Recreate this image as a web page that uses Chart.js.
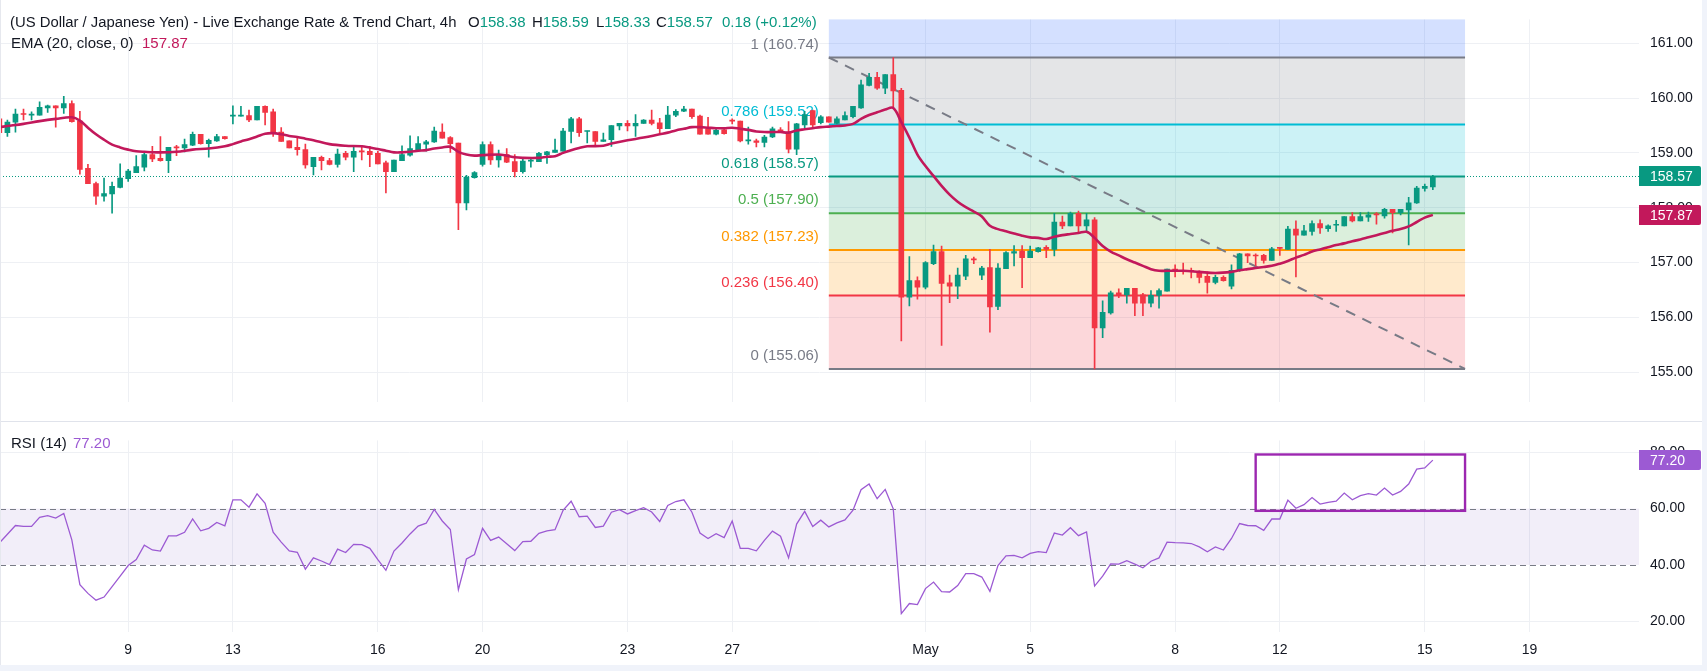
<!DOCTYPE html>
<html>
<head>
<meta charset="utf-8">
<script src="https://cdn.jsdelivr.net/npm/chart.js@4.4.1/dist/chart.umd.min.js"></script>
<style>
  html, body { margin: 0; padding: 0; background: #fff; }
  body { width: 1707px; height: 671px; position: relative; overflow: hidden;
         font-family: 'Liberation Sans', Arial, sans-serif; color: #131722; }
  canvas { position: absolute; left: 0; }
  #main { top: 0; }
  #rsi { top: 421px; }
  .t { position: absolute; font-size: 15px; line-height: 16px; white-space: pre; }
  .up { color: #089981; }
  .frame { position: absolute; background: #f0f3fa; }
</style>
</head>
<body>
<canvas id="main" width="1707" height="421"></canvas>
<canvas id="rsi" width="1707" height="250"></canvas>

<div class="t" style="left:10px; top:14px; font-size:14.85px;">(US Dollar / Japanese Yen) - Live Exchange Rate &amp; Trend Chart, 4h</div>
<div class="t" style="left:468px; top:14px;">O<span class="up">158.38</span></div>
<div class="t" style="left:532px; top:14px;">H<span class="up">158.59</span></div>
<div class="t" style="left:596px; top:14px;">L<span class="up">158.33</span></div>
<div class="t" style="left:656px; top:14px;">C<span class="up">158.57</span></div>
<div class="t up" style="left:722px; top:14px;">0.18 (+0.12%)</div>
<div class="t" style="left:11px; top:35px;">EMA (20, close, 0)</div>
<div class="t" style="left:142px; top:35px; color:#c2185b;">157.87</div>
<div class="t" style="left:11px; top:435px;">RSI (14)</div>
<div class="t" style="left:73px; top:435px; color:#9c5ad3;">77.20</div>

<div class="frame" style="left:0; top:421px; width:1702px; height:1px; background:#e0e3eb;"></div>
<div class="frame" style="left:0; top:0; width:1px; height:671px; background:#e6e8ee;"></div>
<div class="frame" style="left:1702px; top:0; width:5px; height:671px;"></div>
<div class="frame" style="left:0; top:665px; width:1707px; height:6px;"></div>

<script>
// ---- data (4h candles; the first one is candle -1, cut by the left edge) ----
const firstIndex = -1;
const opens = [159.62,
  159.37,159.56,159.71,159.69,159.69,159.82,159.86,159.82,159.90,159.58,
  158.72,158.44,158.21,158.25,158.37,158.53,158.64,158.74,158.97,158.90,
  158.86,159.11,159.09,159.14,159.34,159.17,159.22,159.30,159.67,159.67,
  159.68,159.60,159.85,159.75,159.38,159.22,159.10,159.06,158.75,158.92,
  158.86,158.79,158.99,158.92,159.03,159.03,158.99,158.82,158.66,158.86,
  158.96,159.04,159.16,159.20,159.38,159.28,159.18,158.09,158.55,158.79,
  159.15,158.87,158.97,158.84,158.66,158.85,158.84,158.97,159.01,159.03,
  159.39,159.62,159.39,159.39,159.21,159.24,159.49,159.54,159.49,159.54,
  159.60,159.55,159.44,159.69,159.76,159.80,159.67,159.44,159.34,159.42,
  159.59,159.58,159.22,159.22,159.19,159.29,159.42,159.38,159.07,159.51,
  159.77,159.55,159.66,159.54,159.60,159.66,159.82,160.23,160.38,160.18,
  160.43,160.14,156.37,156.67,156.55,156.98,157.20,156.63,156.57,156.75,
  157.06,156.77,156.91,156.20,156.89,157.17,157.21,157.09,157.20,157.28,
  157.24,157.74,157.67,157.90,157.67,157.78,155.81,156.08,156.45,156.41,
  156.53,156.41,156.26,156.40,156.48,156.88,156.85,156.85,156.84,156.75,
  156.64,156.73,156.57,156.85,157.16,157.13,157.13,157.04,157.27,157.24,
  157.61,157.50,157.57,157.71,157.62,157.68,157.67,157.84,157.76,157.83,
  157.89,157.85,157.97,157.91,157.96,158.09,158.35,158.38
];
const highs = [159.65,
  159.60,159.80,159.80,159.75,159.93,159.87,159.86,160.03,159.95,159.76,
  158.79,158.47,158.54,158.47,158.80,158.70,158.95,158.99,159.12,159.30,
  159.10,159.14,159.25,159.38,159.34,159.25,159.34,159.30,159.86,159.85,
  159.78,159.85,159.86,159.80,159.46,159.22,159.28,159.16,158.92,158.94,
  158.90,159.07,159.03,159.10,159.14,159.12,159.03,158.85,158.87,159.13,
  159.31,159.30,159.23,159.47,159.53,159.30,159.18,158.59,158.66,159.20,
  159.20,159.05,159.08,158.97,158.92,158.90,159.01,159.03,159.25,159.45,
  159.65,159.65,159.40,159.39,159.36,159.50,159.54,159.59,159.70,159.61,
  159.78,159.63,159.85,159.79,159.85,159.80,159.69,159.65,159.46,159.45,
  159.62,159.58,159.47,159.25,159.32,159.47,159.46,159.57,159.54,159.76,
  159.78,159.68,159.66,159.66,159.75,159.85,160.33,160.45,160.47,160.43,
  160.74,160.18,157.11,156.74,157.02,157.32,157.30,156.77,156.90,157.13,
  157.10,156.93,157.24,156.98,157.20,157.31,157.31,157.30,157.28,157.31,
  157.90,157.85,157.92,157.94,157.90,157.82,156.30,156.48,156.52,156.53,
  156.53,156.44,156.49,156.52,156.88,156.96,156.99,156.90,156.85,156.83,
  156.77,156.76,156.96,157.17,157.16,157.16,157.15,157.28,157.28,157.66,
  157.76,157.68,157.76,157.78,157.69,157.77,157.84,157.91,157.91,157.92,
  157.91,157.99,157.97,157.97,158.19,158.39,158.43,158.59
];
const lows = [159.33,
  159.30,159.38,159.60,159.60,159.69,159.74,159.47,159.72,159.56,158.61,
  158.44,158.06,158.12,157.90,158.36,158.48,158.64,158.67,158.84,158.85,
  158.64,158.95,159.02,159.13,159.16,158.92,159.21,159.25,159.53,159.67,
  159.57,159.60,159.51,159.30,159.21,159.09,158.96,158.72,158.60,158.69,
  158.78,158.74,158.87,158.66,158.87,158.75,158.80,158.27,158.66,158.86,
  158.94,159.03,159.03,159.19,159.27,159.01,157.60,157.96,158.54,158.76,
  158.79,158.74,158.82,158.56,158.63,158.74,158.84,158.81,159.01,159.03,
  159.18,159.30,159.18,159.12,159.21,159.12,159.42,159.40,159.30,159.54,
  159.51,159.36,159.44,159.66,159.75,159.63,159.34,159.34,159.33,159.34,
  159.53,159.20,159.16,159.11,159.11,159.28,159.37,159.00,158.97,159.43,
  159.44,159.53,159.56,159.53,159.60,159.64,159.81,160.22,160.16,160.08,
  159.84,155.57,156.21,156.33,156.52,156.96,155.49,156.27,156.34,156.69,
  156.98,156.69,155.73,156.14,156.89,156.94,156.54,157.09,157.19,157.09,
  157.12,157.62,157.67,157.56,157.56,155.06,155.63,156.06,156.36,156.26,
  156.03,156.03,156.19,156.17,156.48,156.74,156.79,156.72,156.63,156.44,
  156.61,156.66,156.52,156.84,157.00,156.94,156.99,157.04,157.13,157.24,
  156.74,157.50,157.50,157.53,157.57,157.57,157.67,157.74,157.76,157.75,
  157.70,157.81,157.54,157.87,157.32,158.08,158.30,158.33
];
const closes = [159.37,
  159.56,159.71,159.70,159.70,159.83,159.86,159.82,159.90,159.57,158.70,
  158.44,158.21,158.26,158.39,158.54,158.67,158.75,158.97,158.89,158.86,
  159.10,159.09,159.15,159.34,159.17,159.23,159.30,159.26,159.68,159.68,
  159.60,159.85,159.74,159.35,159.21,159.09,159.06,158.78,158.92,158.86,
  158.79,158.98,158.92,159.03,159.02,158.97,158.80,158.66,158.87,158.97,
  159.08,159.17,159.20,159.40,159.27,159.17,158.09,158.56,158.64,159.15,
  158.87,158.97,158.83,158.66,158.85,158.86,158.99,159.02,159.05,159.40,
  159.62,159.37,159.40,159.21,159.24,159.50,159.54,159.49,159.54,159.60,
  159.54,159.44,159.69,159.76,159.80,159.66,159.34,159.34,159.41,159.35,
  159.58,159.22,159.23,159.19,159.29,159.44,159.37,159.07,159.53,159.70,
  159.51,159.66,159.56,159.62,159.68,159.85,160.24,160.38,160.18,160.43,
  160.13,156.37,156.67,156.55,157.00,157.20,156.62,156.57,156.77,157.07,
  157.05,156.90,156.19,156.90,157.18,157.20,157.09,157.21,157.27,157.24,
  157.74,157.67,157.90,157.67,157.78,155.81,156.09,156.45,156.40,156.53,
  156.26,156.26,156.40,156.49,156.88,156.84,156.84,156.84,156.73,156.64,
  156.73,156.67,156.86,157.16,157.12,157.12,157.04,157.25,157.26,157.61,
  157.50,157.58,157.71,157.63,157.67,157.69,157.84,157.76,157.84,157.87,
  157.87,157.97,157.91,157.97,158.09,158.36,158.39,158.57
];

// EMA(20) line: candle index -> value
const emaIdx = [-1,0,2,4,6,8,9,10,11,12,13,14,15,16,17,19,21,23,25,27,28,29,30,31,32,33,34,35,36,37,38,
  40,42,44,46,47,48,49,50,51,52,53,54,55,56,57,58,59,61,62,63,64,66,67,68,69,70,71,72,74,75,
  77,79,81,82,83,84,85,86,87,88,89,90,91,92,93,94,96,97,98,99,100,101,102,103,104,105,106,107,108,109,
  110,111,112,113,114,115,116,117,118,119,120,121,122,123,124,125,126,127,128,129,130,131,132,133,134,135,136,137,138,139,
  140,141,142,143,144,146,148,150,152,153,154,155,156,157,158,159,160,161,162,163,164,165,166,167,168,169,170,171,172,173,
  174,175,176,177];
const emaVal = [159.47,159.49,159.53,159.58,159.62,159.65,159.59,159.46,159.34,159.24,159.15,159.10,159.06,159.03,159.02,159.01,159.02,159.06,159.08,159.12,159.16,159.21,159.25,159.30,159.35,159.36,159.34,159.31,159.29,159.26,159.23,
  159.16,159.13,159.12,159.07,159.04,159.01,159.01,159.02,159.04,159.05,159.08,159.10,159.11,159.02,158.97,158.95,158.96,158.97,158.95,158.92,158.91,158.91,158.93,158.94,159.00,159.05,159.09,159.12,159.13,159.17,
  159.23,159.28,159.34,159.37,159.41,159.44,159.47,159.47,159.46,159.45,159.45,159.46,159.44,159.42,159.39,159.38,159.38,159.37,159.41,159.43,159.45,159.47,159.48,159.49,159.50,159.53,159.62,159.69,159.74,159.79,
  159.82,159.56,159.28,158.97,158.76,158.58,158.40,158.24,158.11,158.01,157.93,157.84,157.67,157.61,157.57,157.53,157.49,157.46,157.45,157.43,157.47,157.50,157.52,157.54,157.56,157.45,157.30,157.20,157.13,157.06,
  157.00,156.94,156.88,156.85,156.85,156.85,156.83,156.81,156.83,156.86,156.88,156.90,156.92,156.94,156.98,157.03,157.09,157.14,157.20,157.24,157.28,157.32,157.35,157.39,157.42,157.46,157.50,157.54,157.58,157.61,
  157.66,157.74,157.82,157.87];

// RSI(14), one value per candle (from candle -1)
const rsiVals = [47.8,
  50.9,54.0,53.7,53.7,56.9,57.5,56.6,58.3,48.9,33.0,
  29.9,27.5,28.6,32.3,36.0,39.8,41.9,47.0,45.3,44.9,
  50.3,50.3,51.6,56.3,52.1,53.0,55.1,53.9,63.1,63.1,
  60.5,65.2,61.9,51.6,48.1,45.0,44.5,38.5,42.5,41.4,
  40.1,45.6,44.4,47.3,47.2,45.9,41.9,38.1,44.9,47.8,
  51.0,53.8,54.8,59.7,55.6,52.6,31.2,42.1,43.7,53.0,
  48.7,49.9,47.5,45.1,48.3,48.4,51.2,52.1,52.5,59.4,
  62.6,57.1,57.3,53.3,53.8,58.7,59.6,58.1,59.3,60.3,
  58.8,55.4,61.1,62.5,63.1,58.7,51.3,49.4,51.1,49.7,
  55.6,45.9,45.9,45.0,48.7,52.0,50.2,42.5,54.5,59.0,
  53.6,55.9,53.5,54.9,56.0,59.4,66.7,68.7,63.5,66.8,
  59.9,22.7,26.3,25.9,31.6,33.9,30.5,30.4,32.7,36.9,
  36.9,35.7,30.6,39.8,43.2,43.4,42.5,44.1,44.7,44.4,
  51.3,50.6,53.2,50.4,51.7,32.5,36.0,40.4,40.3,41.5,
  40.3,39.0,41.3,42.5,48.1,47.9,47.8,47.6,46.4,44.7,
  46.4,45.3,49.4,54.7,54.0,53.9,52.3,56.3,56.3,63.0,
  60.1,61.4,63.9,61.6,62.2,62.6,65.5,63.1,64.6,65.3,
  64.8,67.3,64.8,66.1,68.7,74.0,74.4,77.2
];

// time axis: candle index of each day label
const tickIdx  = [15, 28, 46, 59, 77, 90, 114, 127, 145, 158, 176, 189];
const tickText = ['9', '13', '16', '20', '23', '27', 'May', '5', '8', '12', '15', '19'];
const priceTicks = [155, 156, 157, 158, 159, 160, 161];
const rsiTicks = [20, 40, 60, 80];

// fibonacci retracement drawn from candle 102 (160.74) to candle 181 (155.06)
const fibLevels = [1, 0.786, 0.618, 0.5, 0.382, 0.236, 0];
const fibPrices = [160.74, 159.52, 158.57, 157.90, 157.23, 156.40, 155.06];
const fibFrom = 102, fibTo = 181;
const lastPrice = 158.57, lastEma = 157.87, lastRsi = 77.20;
const rsiBoxX = [155, 181], rsiBoxY = [59.2, 79.2];

const fibLine = ['#787b86', '#00bcd4', '#089981', '#4caf50', '#ff9800', '#f23645', '#787b86'];
const fibFill = ['rgba(120,123,134,0.2)', 'rgba(0,188,212,0.2)', 'rgba(8,153,129,0.2)',
                 'rgba(76,175,80,0.2)', 'rgba(255,152,0,0.2)', 'rgba(242,54,69,0.2)'];

const FONT = "'Liberation Sans', Arial, sans-serif";
const UP = '#089981', DOWN = '#f23645', GRID = '#eef0f4', TEXT = '#131722';
const xMin = -0.919, xMax = 202.6;

Chart.defaults.font.family = FONT;
Chart.defaults.font.size = 14;
Chart.defaults.color = TEXT;

const idx = closes.map((_, k) => k + firstIndex);
const candleColor = ctx => closes[ctx.dataIndex] >= opens[ctx.dataIndex] ? UP : DOWN;

function badge(ctx, x, y, text, color) {
  ctx.fillStyle = color;
  ctx.beginPath();
  ctx.roundRect(x, Math.round(y) - 10, 62, 20, [0, 2, 2, 0]);
  ctx.fill();
  ctx.fillStyle = '#fff';
  ctx.font = '14px ' + FONT;
  ctx.textAlign = 'left';
  ctx.textBaseline = 'middle';
  ctx.fillText(text, x + 11, Math.round(y) + 1);
}

const xScale = (showLabels) => ({
  type: 'linear', min: xMin, max: xMax, offset: false,
  afterBuildTicks: s => { s.ticks = tickIdx.map(v => ({ value: v })); },
  ticks: {
    display: showLabels, autoSkip: false, maxRotation: 0, padding: 10, color: TEXT,
    callback: (v, i) => tickText[i]
  },
  grid: { color: GRID, drawTicks: false, offset: false },
  border: { display: false },
  afterFit: s => { s.height = showLabels ? 39.3 : 0; }
});

const fibPlugin = {
  id: 'fib',
  beforeDatasetsDraw(chart) {
    const { ctx, chartArea: a, scales: { x, y } } = chart;
    ctx.save();
    // last price dotted line
    const yl = Math.round(y.getPixelForValue(lastPrice)) + 0.5;
    ctx.strokeStyle = UP; ctx.lineWidth = 1; ctx.setLineDash([1, 2]);
    ctx.beginPath(); ctx.moveTo(a.left, yl); ctx.lineTo(a.right, yl); ctx.stroke();
    ctx.setLineDash([]);

    const x0 = x.getPixelForValue(fibFrom), x1 = x.getPixelForValue(fibTo);
    ctx.fillStyle = 'rgba(41,98,255,0.2)';
    ctx.fillRect(x0, a.top, x1 - x0, y.getPixelForValue(fibPrices[0]) - a.top);
    for (let k = 0; k < fibFill.length; k++) {
      const ya = y.getPixelForValue(fibPrices[k]), yb = y.getPixelForValue(fibPrices[k + 1]);
      ctx.fillStyle = fibFill[k];
      ctx.fillRect(x0, ya, x1 - x0, yb - ya);
    }
    ctx.font = '15px ' + FONT;
    ctx.textAlign = 'right';
    ctx.textBaseline = 'middle';
    fibPrices.forEach((p, k) => {
      const yy = y.getPixelForValue(p);
      ctx.strokeStyle = fibLine[k]; ctx.lineWidth = 2;
      ctx.beginPath(); ctx.moveTo(x0, yy); ctx.lineTo(x1, yy); ctx.stroke();
      ctx.fillStyle = fibLine[k];
      ctx.fillText(fibLevels[k] + ' (' + p.toFixed(2) + ')', x0 - 10, yy - 13);
    });
    // trend line of the retracement
    ctx.strokeStyle = '#787b86'; ctx.lineWidth = 2; ctx.setLineDash([10, 8]);
    ctx.beginPath();
    ctx.moveTo(x0, y.getPixelForValue(fibPrices[0]));
    ctx.lineTo(x1, y.getPixelForValue(fibPrices[fibPrices.length - 1]));
    ctx.stroke();
    ctx.restore();
  },
  afterDraw(chart) {
    const { ctx, chartArea: a, scales: { y } } = chart;
    ctx.save();
    badge(ctx, a.right, y.getPixelForValue(lastPrice), lastPrice.toFixed(2), UP);
    badge(ctx, a.right, y.getPixelForValue(lastEma), lastEma.toFixed(2), '#c2185b');
    ctx.restore();
  }
};

new Chart(document.getElementById('main'), {
  type: 'bar',
  data: {
    datasets: [
      { type: 'line', label: 'EMA', data: emaIdx.map((v, k) => ({ x: v, y: emaVal[k] })),
        borderColor: '#c2185b', borderWidth: 2.6, pointRadius: 0, tension: 0.35, order: 0 },
      { label: 'body', data: idx.map((v, k) => ({ x: v, y: [opens[k], closes[k]] })),
        backgroundColor: candleColor, barThickness: 5, minBarLength: 1, grouped: false, order: 1 },
      { label: 'wick', data: idx.map((v, k) => ({ x: v, y: [lows[k], highs[k]] })),
        backgroundColor: candleColor, barThickness: 1, grouped: false, order: 2 }
    ]
  },
  options: {
    responsive: false, maintainAspectRatio: false, animation: false, devicePixelRatio: 1,
    layout: { padding: 0 },
    plugins: { legend: { display: false }, tooltip: { enabled: false } },
    scales: {
      x: xScale(false),
      y: {
        position: 'right', min: 154.464, max: 161.435,
        afterBuildTicks: s => { s.ticks = priceTicks.map(v => ({ value: v })); },
        ticks: { padding: 11, color: TEXT, callback: v => v.toFixed(2) },
        grid: { color: GRID, drawTicks: false },
        border: { display: false },
        afterFit: s => { s.width = 68; }
      }
    }
  },
  plugins: [fibPlugin]
});

const rsiPlugin = {
  id: 'rsiBand',
  beforeDatasetsDraw(chart) {
    const { ctx, chartArea: a, scales: { y } } = chart;
    ctx.save();
    const y60 = y.getPixelForValue(60), y40 = y.getPixelForValue(40);
    ctx.fillStyle = 'rgba(126,87,194,0.1)';
    ctx.fillRect(a.left, y60, a.right - a.left, y40 - y60);
    ctx.strokeStyle = '#787b86'; ctx.lineWidth = 1; ctx.setLineDash([6, 4]);
    [y60, y40].forEach(yy => {
      const py = Math.round(yy) + 0.5;
      ctx.beginPath(); ctx.moveTo(a.left, py); ctx.lineTo(a.right, py); ctx.stroke();
    });
    ctx.restore();
  },
  afterDatasetsDraw(chart) {
    const { ctx, scales: { x, y } } = chart;
    ctx.save();
    ctx.strokeStyle = '#9c27b0'; ctx.lineWidth = 2.4;
    const bx0 = x.getPixelForValue(rsiBoxX[0]), bx1 = x.getPixelForValue(rsiBoxX[1]);
    const by0 = y.getPixelForValue(rsiBoxY[1]), by1 = y.getPixelForValue(rsiBoxY[0]);
    ctx.strokeRect(bx0, by0, bx1 - bx0, by1 - by0);
    ctx.restore();
  },
  afterDraw(chart) {
    const { ctx, chartArea: a, scales: { y } } = chart;
    ctx.save();
    badge(ctx, a.right, y.getPixelForValue(lastRsi), lastRsi.toFixed(2), '#9c5ad3');
    ctx.restore();
  }
};

new Chart(document.getElementById('rsi'), {
  type: 'line',
  data: {
    datasets: [{ label: 'RSI', data: idx.map((v, k) => ({ x: v, y: rsiVals[k] })),
      borderColor: '#9c5ad3', borderWidth: 1.3, pointRadius: 0, tension: 0 }]
  },
  options: {
    responsive: false, maintainAspectRatio: false, animation: false, devicePixelRatio: 1,
    layout: { padding: 0 },
    plugins: { legend: { display: false }, tooltip: { enabled: false } },
    scales: {
      x: xScale(true),
      y: {
        position: 'right', min: 16.3, max: 84.2,
        afterBuildTicks: s => { s.ticks = rsiTicks.map(v => ({ value: v })); },
        ticks: { padding: 11, color: TEXT, callback: v => v.toFixed(2) },
        grid: { drawTicks: false,
                color: c => (c.tick && (c.tick.value === 40 || c.tick.value === 60)) ? 'rgba(0,0,0,0)' : GRID },
        border: { display: false },
        afterFit: s => { s.width = 68; }
      }
    }
  },
  plugins: [rsiPlugin]
});
</script>
</body>
</html>
